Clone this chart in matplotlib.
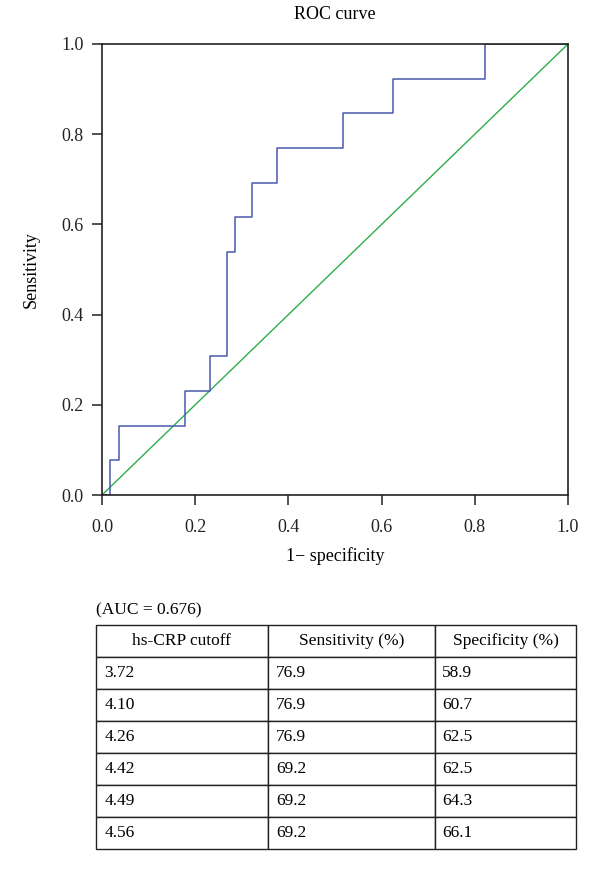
import numpy as np
import matplotlib
matplotlib.use("Agg")
from matplotlib import pyplot as plt

# ROC curve (13 positives, 56 negatives) - step corners
fpr_counts = [0, 1, 1, 2, 2, 10, 10, 13, 13, 15, 15, 16, 16, 18, 18, 21, 21, 29, 29, 35, 35, 46, 46, 56]
tpr_counts = [0, 0, 1, 1, 2, 2, 3, 3, 4, 4, 7, 7, 8, 8, 9, 9, 10, 10, 11, 11, 12, 12, 13, 13]
n_neg = 56
n_pos = 13

auc_text = "(AUC = 0.676)"
col_labels = ["hs-CRP cutoff", "Sensitivity (%)", "Specificity (%)"]
cutoffs = ["3.72", "4.10", "4.26", "4.42", "4.49", "4.56"]
sensitivity = ["76.9", "76.9", "76.9", "69.2", "69.2", "69.2"]
specificity = ["58.9", "60.7", "62.5", "62.5", "64.3", "66.1"]

plt.rcParams['font.family'] = ['Liberation Serif', 'DejaVu Serif']

W, H = 600, 871
fig = plt.figure(figsize=(W / 100, H / 100), dpi=100)

# ROC axes
ax = fig.add_axes([102 / W, 1 - 495 / H, (568 - 102) / W, (495 - 44) / H])
x = np.array(fpr_counts) / n_neg
y = np.array(tpr_counts) / n_pos
ax.plot([0, 1], [0, 1], color='#2eae4a', lw=1.0)
ax.plot(x, y, color='#4a5ab0', lw=1.1)
ax.set_xlim(0, 1)
ax.set_ylim(0, 1)
ticks = [0.0, 0.2, 0.4, 0.6, 0.8, 1.0]
ax.set_xticks(ticks)
ax.set_yticks(ticks)
ax.set_xticklabels(['%.1f' % t for t in ticks])
ax.set_yticklabels(['%.1f' % t for t in ticks])
ax.tick_params(direction='out', length=7, width=1.1, labelsize=13, colors='#222222')
ax.tick_params(axis='x', pad=10)
ax.tick_params(axis='y', pad=6)
for s in ax.spines.values():
    s.set_linewidth(1.2)
    s.set_color('#222222')
ax.set_title("ROC curve", fontsize=13, pad=18)
ax.set_xlabel("1\u2212 specificity", fontsize=13, labelpad=8)
ax.set_ylabel("Sensitivity", fontsize=13, labelpad=16)

# AUC note
fig.text(96 / W, 1 - 610 / H, auc_text, fontsize=12.5, va='center', ha='left')

# table
tab_ax = fig.add_axes([96 / W, 1 - 849 / H, (576 - 96) / W, (849 - 625) / H])
tab_ax.axis('off')
cells = [[c, s, p] for c, s, p in zip(cutoffs, sensitivity, specificity)]
col_w = np.array([171.7, 167.3, 140.7])
table = tab_ax.table(cellText=cells, colLabels=col_labels, colWidths=list(col_w / col_w.sum()),
                     cellLoc='left', bbox=[0, 0, 1, 1])
table.auto_set_font_size(False)
for (r, c), cell in table.get_celld().items():
    cell.set_linewidth(1.0)
    cell.set_edgecolor('#222222')
    cell.get_text().set_fontsize(12.5)
    cell.get_text().set_family(['Liberation Serif', 'DejaVu Serif'])
    if r == 0:
        cell.get_text().set_horizontalalignment('center')
        cell._loc = 'center'
    else:
        cell.PAD = 0.05

fig.savefig("out.png", dpi=100)
